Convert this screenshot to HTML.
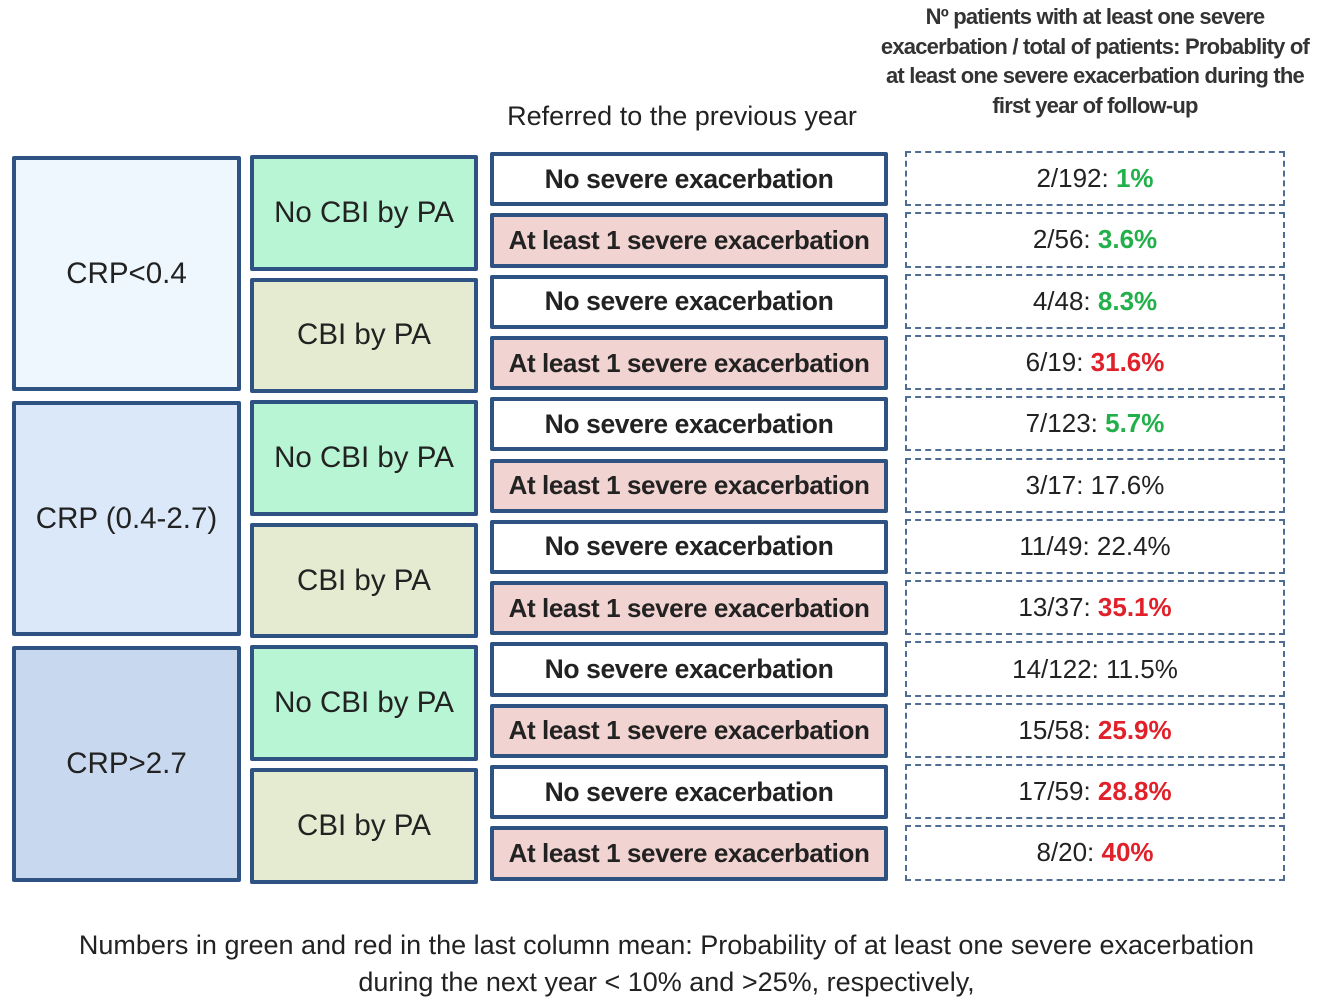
<!DOCTYPE html>
<html><head><meta charset="utf-8">
<style>
body{margin:0;width:1333px;height:1004px;background:#fff;position:relative;overflow:hidden;font-family:"Liberation Sans",sans-serif;color:#222}
.b{position:absolute;box-sizing:border-box;border:4px solid #2e5383;display:flex;align-items:center;justify-content:center;text-align:center;border-radius:2px;white-space:nowrap}
.d{position:absolute;box-sizing:border-box;border:2px dashed #4f6c94;display:flex;align-items:center;justify-content:center;font-size:26px;background:#fff}
.t{position:absolute;text-align:center;white-space:nowrap}
</style></head><body>
<div class="t" style="left:860px;top:2px;width:470px;font-size:22px;line-height:29.5px;font-weight:bold;color:#333;letter-spacing:-0.8px">Nº patients with at least one severe<br>exacerbation / total of patients: Probablity of<br>at least one severe exacerbation during the<br>first year of follow-up</div>
<div class="t" style="left:490px;top:101px;width:384px;font-size:27px">Referred to the previous year</div>
<div id="d"></div>
<div class="t" style="left:0;top:927px;width:1333px;font-size:27px;line-height:37px">Numbers in green and red in the last column mean: Probability of at least one severe exacerbation<br>during the next year &lt; 10% and &gt;25%, respectively,</div>
<script>
const crpGroups=["CRP<0.4","CRP (0.4-2.7)","CRP>2.7"];
const cbiGroups=["No CBI by PA","CBI by PA"];
const exacGroups=["No severe exacerbation","At least 1 severe exacerbation"];
const events=[2,2,4,6,7,3,11,13,14,15,17,8];
const totals=[192,56,48,19,123,17,49,37,122,58,59,20];
const percents=["1%","3.6%","8.3%","31.6%","5.7%","17.6%","22.4%","35.1%","11.5%","25.9%","28.8%","40%"];
const pctValues=[1,3.6,8.3,31.6,5.7,17.6,22.4,35.1,11.5,25.9,28.8,40];
const root=document.getElementById('d');
const crpFill=["#eef7fe","#dae8fa","#c8d8ee"],cbiFill=["#b8f5d5","#e4ebd0"];
const top0=152,rowH=61.3;
function mk(cls,x,y,w,h,html,bg,fs){const e=document.createElement('div');e.className=cls;e.style.left=x+'px';e.style.top=y+'px';e.style.width=w+'px';e.style.height=h+'px';if(bg)e.style.background=bg;if(fs)e.style.fontSize=fs+'px';e.innerHTML=html;root.appendChild(e);return e;}
crpGroups.forEach((g,i)=>{const y=top0+i*4*rowH+4;const e=mk('b',12,y,229,4*rowH-10,g.replace('<','&lt;'),crpFill[i],29.5);

});
for(let j=0;j<6;j++){const y=top0+j*2*rowH+3;const e=mk('b',250,y,228,2*rowH-7,cbiGroups[j%2],cbiFill[j%2],29.5);

}
for(let k=0;k<12;k++){const y=top0+k*rowH;const ex=k%2;
const e=mk('b',490,y,398,rowH-7,exacGroups[ex],ex?"#f1d3d1":"#fff",ex?26:26.5);e.style.fontWeight='bold';e.style.letterSpacing='-0.4px';


const p=pctValues[k];const col=p<10?"#22b04b":(p>25?"#e0202a":"#222");
const d=mk('d',905,y-1,380,rowH-6,events[k]+'/'+totals[k]+': <span style="color:'+col+';font-weight:'+(col==="#222"?'normal':'bold')+'">&nbsp;'+percents[k]+'</span>');

}
</script>
</body></html>
